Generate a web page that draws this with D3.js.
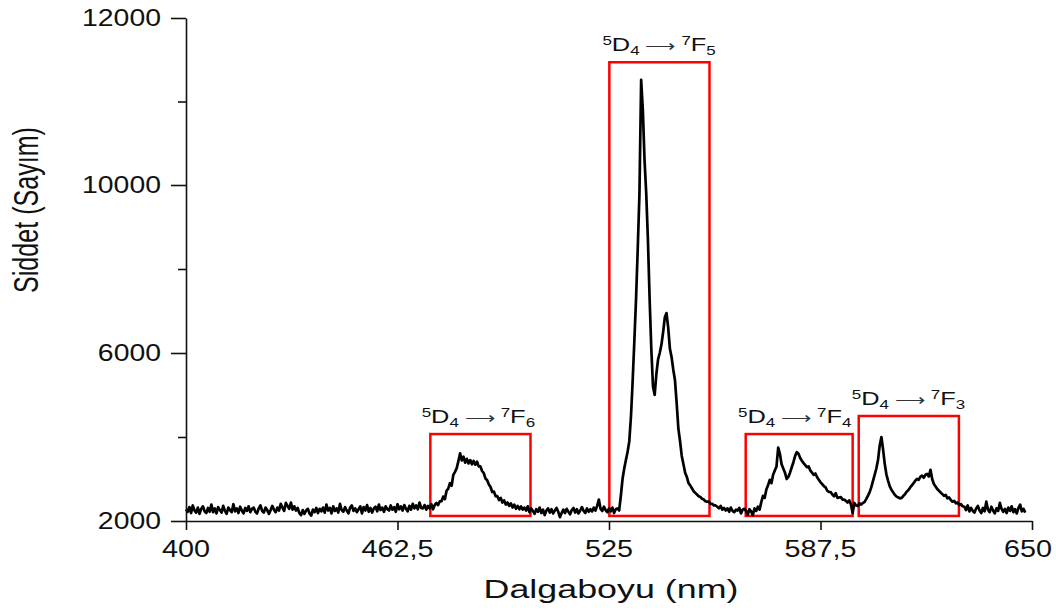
<!DOCTYPE html>
<html><head><meta charset="utf-8">
<script src="https://cdn.jsdelivr.net/npm/d3@7"></script>
<style>body{margin:0;background:#fff}svg{display:block}</style>
</head><body>
<svg id="c" width="1056" height="612"></svg>
<script>
// ---- data ----
const wavelengthStart = 400;
const wavelengthStep = 0.5;
const intensity = [
// 400
2280,2220,2330,2190,2370,2250,2200,2320,2170,2290,2350,2230,2190,2310,2220,2390,2210,2300,2180,2330,
// 410
2260,2200,2360,2240,2170,2320,2260,2210,2400,2230,2300,2190,2340,2250,2180,2310,2240,2350,2210,2290,
// 420
2320,2220,2180,2300,2370,2240,2200,2320,2260,2170,2260,2360,2270,2210,2320,2250,2410,2320,2240,2430,
// 430
2360,2290,2440,2270,2350,2250,2310,2190,2140,2260,2170,2250,2290,2180,2130,2270,2210,2310,2190,2290,
// 440
2230,2320,2200,2390,2250,2310,2180,2350,2240,2300,2200,2410,2260,2220,2330,2250,2180,2320,2370,2240,
// 450
2300,2210,2280,2350,2180,2330,2250,2380,2220,2310,2200,2300,2340,2230,2390,2260,2320,2220,2350,2280,
// 460
2250,2370,2270,2330,2220,2400,2280,2350,2250,2380,2290,2230,2360,2270,2410,2300,2370,2280,2440,2310,
// 470
2300,2380,2270,2360,2300,2400,2280,2380,2430,2380,2470,2470,2580,2520,2720,2770,2900,2840,3100,3170,
// 480
3260,3430,3610,3440,3530,3390,3480,3370,3450,3350,3430,3340,3410,3300,3300,3190,3140,3010,2970,2870,
// 490
2810,2690,2700,2590,2590,2500,2550,2440,2490,2390,2440,2360,2420,2320,2390,2290,2360,2280,2350,2270,
// 500
2320,2250,2350,2210,2300,2240,2170,2280,2220,2320,2190,2270,2140,2250,2300,2200,2280,2180,2250,2310,
// 510
2220,2090,2190,2270,2190,2290,2220,2160,2260,2310,2200,2280,2180,2250,2330,2240,2190,2300,2220,2280,
// 520
2230,2320,2250,2360,2510,2290,2240,2340,2260,2210,2300,2230,2320,2190,2280,2300,2250,2600,3000,3250,
// 530
3450,3650,3900,4500,5350,6300,7300,8500,9800,11260,10900,10300,9800,8700,7300,6100,5200,5000,5500,5850,
// 540
6000,6200,6500,6850,6950,6600,6100,5900,5600,5350,4800,4200,3900,3550,3350,3150,3050,2900,2850,2780,
// 550
2710,2670,2630,2590,2570,2530,2510,2470,2460,2460,2410,2410,2370,2370,2340,2300,2360,2270,2310,2250,
// 560
2300,2220,2320,2240,2210,2270,2250,2310,2180,2270,2290,2240,2150,2280,2230,2140,2300,2240,2340,2270,
// 570
2450,2600,2550,2750,2850,2980,2900,3100,3200,3300,3750,3600,3350,3250,3150,3000,3050,3150,3280,3400,
// 580
3550,3640,3600,3500,3430,3380,3330,3280,3300,3200,3150,3100,3130,3040,2980,2920,2880,2830,2800,2720,
// 590
2690,2690,2630,2590,2660,2550,2560,2570,2510,2510,2480,2440,2490,2390,2190,2430,2370,2360,2420,2390,
// 600
2430,2450,2520,2600,2680,2800,2950,3100,3250,3450,3800,4000,3700,3350,3100,2950,2820,2740,2680,2620,
// 610
2580,2560,2540,2550,2600,2640,2700,2740,2800,2850,2900,2960,3000,2980,3050,3080,3030,3100,3120,3060,
// 620
3220,3000,2880,2820,2760,2720,2680,2640,2600,2620,2540,2560,2500,2460,2480,2420,2440,2380,2400,2350,
// 630
2340,2260,2370,2230,2310,2240,2200,2300,2360,2250,2190,2310,2230,2460,2270,2210,2340,2250,2180,2300,
// 640
2240,2430,2290,2220,2290,2190,2320,2240,2350,2210,2280,2180,2310,2390,2230,2290,2200
];
const xTicks = [400, 462.5, 525, 587.5, 650];
const xTickLabels = ["400", "462,5", "525", "587,5", "650"];
const yTicks = [2000, 6000, 10000, 12000];
const yTickLabels = ["2000", "6000", "10000", "12000"];
const yMinorTicks = [4000, 8000, 11000];
const boxStart = [472.2, 525.1, 565.4, 598.8];
const boxEnd = [501.8, 554.7, 597.0, 628.4];
const boxTop = [4070, 11470, 4070, 4500];
const boxBottom = [2120, 2120, 2120, 2120];
const labelCenter = [486.4, 539.8, 579.9, 613.5];
const labelFinalJ = ["6", "5", "4", "3"];
const xTitle = "Dalgaboyu (nm)";
const yTitle = "Siddet (Sayım)";

// ---- chart ----
const svg = d3.select("#c");
const FONT = "'Liberation Sans', Arial, sans-serif";
const x = d3.scaleLinear().domain([400, 650]).range([186, 1032]);
const y = d3.scaleLinear().domain([2000, 6000, 10000, 12000]).range([521, 353, 185, 18]);

// red boxes
svg.append("g").selectAll("rect").data(boxStart).join("rect")
  .attr("x", (d) => x(d))
  .attr("y", (d, i) => y(boxTop[i]))
  .attr("width", (d, i) => x(boxEnd[i]) - x(d))
  .attr("height", (d, i) => y(boxBottom[i]) - y(boxTop[i]))
  .attr("fill", "none").attr("stroke", "#ff0000").attr("stroke-width", 2.5);

// spectrum
const line = d3.line()
  .x((d, i) => x(wavelengthStart + i * wavelengthStep))
  .y((d) => y(d));
svg.append("path").datum(intensity)
  .attr("d", line).attr("fill", "none").attr("stroke", "#000")
  .attr("stroke-width", 2.7).attr("stroke-linejoin", "round");

// axes
const axisStyle = (g) => {
  g.selectAll("path,line").attr("stroke", "#111").attr("stroke-width", 1.6);
  g.selectAll("text").remove();
};
svg.append("g").attr("transform", "translate(186,0)")
  .call(d3.axisLeft(y).tickValues(yTicks).tickSize(15).tickSizeOuter(0).tickFormat(""))
  .call(axisStyle);
svg.append("g").attr("transform", "translate(186,0)")
  .call(d3.axisLeft(y).tickValues(yMinorTicks).tickSize(8).tickSizeOuter(0).tickFormat(""))
  .call(axisStyle).select(".domain").remove();
svg.append("g").attr("transform", "translate(0,521)")
  .call(d3.axisBottom(x).tickValues(xTicks).tickSize(9).tickSizeOuter(0).tickFormat(""))
  .call(axisStyle);

// y tick labels
const yl = svg.append("g").selectAll("text").data(yTicks).join("text")
  .attr("text-anchor", "end").attr("dominant-baseline", "central")
  .attr("font-family", FONT).attr("font-size", 24).attr("fill", "#111")
  .text((d, i) => yTickLabels[i]);
const ys = 79 / yl.nodes()[3].getBBox().width;
yl.attr("transform", (d) => `translate(161,${y(d)}) scale(${ys},1)`);

// x tick labels
const xl = svg.append("g").selectAll("text").data(xTicks).join("text")
  .attr("text-anchor", "middle")
  .attr("font-family", FONT).attr("font-size", 23).attr("fill", "#111")
  .text((d, i) => xTickLabels[i]);
const xs = 72 / xl.nodes()[1].getBBox().width;
xl.attr("transform", function (d) {
  const w = this.getBBox().width * xs;
  const cx = Math.min(x(d), 1052 - w / 2);
  return `translate(${cx},557) scale(${xs},1)`;
});

// axis titles
const xt = svg.append("text").attr("text-anchor", "middle")
  .attr("font-family", FONT).attr("font-size", 26).attr("fill", "#111").text(xTitle);
const xts = 255 / xt.node().getBBox().width;
xt.attr("transform", `translate(611,598) scale(${xts},1)`);

const yt = svg.append("text").attr("text-anchor", "middle")
  .attr("font-family", FONT).attr("font-size", 25).attr("fill", "#111").text(yTitle);
const ytl = 166 / yt.node().getBBox().width;
yt.attr("transform", `translate(38,210) scale(1.4,1) rotate(-90) scale(${ytl},1)`);

// transition labels
const lab = svg.append("g").selectAll("text").data(labelCenter).join("text")
  .attr("text-anchor", "middle")
  .attr("font-family", FONT).attr("font-size", 18).attr("fill", "#111");
lab.each(function (d, i) {
  const t = d3.select(this);
  t.append("tspan").attr("font-size", 12).attr("dy", -6).text("5");
  t.append("tspan").attr("dy", 6).text("D");
  t.append("tspan").attr("font-size", 12).attr("dy", 4).text("4");
  t.append("tspan").attr("dy", -4).attr("font-size", 15).attr("fill", "#333").text(" \u27F6 ");
  t.append("tspan").attr("font-size", 12).attr("dy", -6).text("7");
  t.append("tspan").attr("dy", 6).text("F");
  t.append("tspan").attr("font-size", 12).attr("dy", 4).text(labelFinalJ[i]);
});
lab.attr("transform", function (d, i) {
  const s = 115 / this.getBBox().width;
  return `translate(${x(d)},${y(boxTop[i]) - 11}) scale(${s},1)`;
});
</script>
</body></html>
